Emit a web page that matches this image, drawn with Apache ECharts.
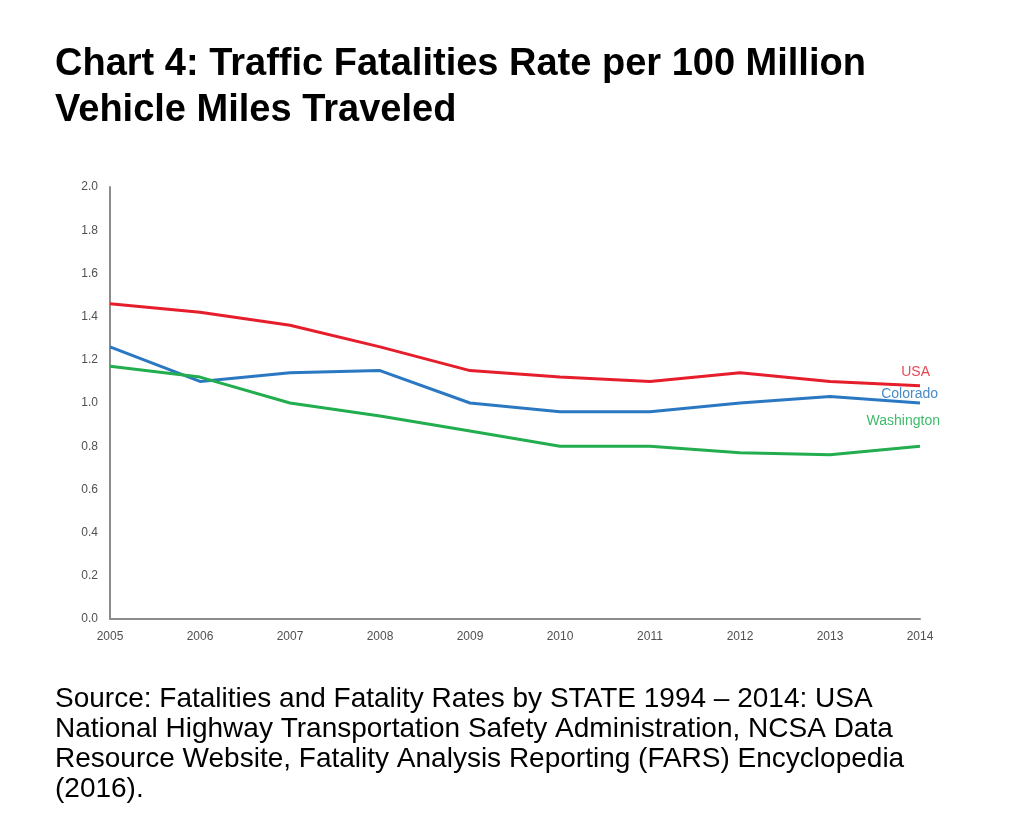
<!DOCTYPE html>
<html><head><meta charset="utf-8">
<script src="https://cdn.jsdelivr.net/npm/echarts@6/dist/echarts.min.js"></script>
<style>html,body{margin:0;padding:0;background:#fff}#c{width:1024px;height:828px}</style>
</head><body><div id="c"></div>
<script>
const years = ['2005','2006','2007','2008','2009','2010','2011','2012','2013','2014'];
const usa = [1.46,1.42,1.36,1.26,1.15,1.12,1.10,1.14,1.10,1.08];
const colorado = [1.26,1.10,1.14,1.15,1.00,0.96,0.96,1.00,1.03,1.00];
const washington = [1.17,1.12,1.00,0.94,0.87,0.80,0.80,0.77,0.76,0.80];
const yTicks = ['0.0','0.2','0.4','0.6','0.8','1.0','1.2','1.4','1.6','1.8','2.0'];
const FF = 'Liberation Sans';

const chart = echarts.init(document.getElementById('c'));
chart.setOption({
  animation:false,
  backgroundColor:'#fff',
  title:[
    {text:'Chart 4: Traffic Fatalities Rate per 100 Million\nVehicle Miles Traveled', left:50, top:37,
     textStyle:{fontFamily:FF, fontWeight:'bold', fontSize:38, color:'#000', lineHeight:46}},
    {text:'Source: Fatalities and Fatality Rates by STATE 1994 – 2014: USA\nNational Highway Transportation Safety Administration, NCSA Data\nResource Website, Fatality Analysis Reporting (FARS) Encyclopedia\n(2016).', left:50, top:679,
     textStyle:{fontFamily:FF, fontWeight:'normal', fontSize:28, color:'#000', lineHeight:30}}
  ],
  grid:{left:110, right:104, top:187, bottom:209},
  xAxis:{type:'category', data:years, boundaryGap:false,
    axisLine:{lineStyle:{color:'#8c8c8c', width:2}}, axisTick:{show:false},
    axisLabel:{color:'#505050', fontSize:12, fontFamily:FF, margin:12}},
  yAxis:{type:'value', min:0, max:2, interval:0.2,
    axisLine:{show:true, lineStyle:{color:'#8c8c8c', width:2}}, axisTick:{show:false}, splitLine:{show:false},
    axisLabel:{color:'#505050', fontSize:12, fontFamily:FF, margin:12, formatter:v=>yTicks[Math.round(v/0.2)]}},
  series:[
    {name:'USA', type:'line', data:usa, symbol:'none',
     lineStyle:{color:'#e61e2b', width:3}, itemStyle:{color:'#e61e2b'},
     endLabel:{show:true, formatter:'USA', color:'#e64855', align:'right', verticalAlign:'middle', offset:[2,-14], fontSize:14, fontFamily:FF}},
    {name:'Colorado', type:'line', data:colorado, symbol:'none',
     lineStyle:{color:'#2a78c2', width:3}, itemStyle:{color:'#2a78c2'},
     endLabel:{show:true, formatter:'Colorado', color:'#4a8ac8', align:'right', verticalAlign:'middle', offset:[10,-9], fontSize:14, fontFamily:FF}},
    {name:'Washington', type:'line', data:washington, symbol:'none',
     lineStyle:{color:'#22ad4e', width:3}, itemStyle:{color:'#22ad4e'},
     endLabel:{show:true, formatter:'Washington', color:'#3dbb6a', align:'right', verticalAlign:'middle', offset:[12,-25], fontSize:14, fontFamily:FF}}
  ]
});
</script></body></html>
